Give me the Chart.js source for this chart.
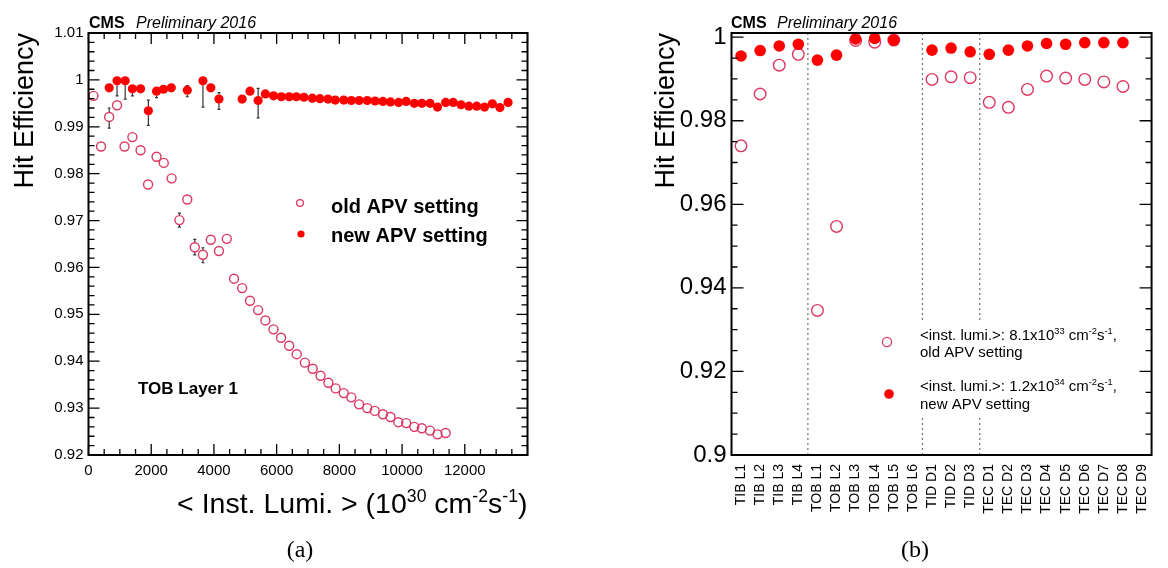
<!DOCTYPE html>
<html><head><meta charset="utf-8">
<script src="https://cdn.jsdelivr.net/npm/chart.js@4.4.0/dist/chart.umd.min.js"></script>
<style>
html,body{margin:0;padding:0;background:#fff;}
#wrap{position:relative;width:1168px;height:568px;overflow:hidden;background:#fff;}
#ca{position:absolute;left:0;top:0;width:580px;height:568px;}
#cb{position:absolute;left:600px;top:0;width:568px;height:568px;}
</style></head><body>
<div id="wrap"><canvas id="ca" width="580" height="568"></canvas><canvas id="cb" width="568" height="568"></canvas></div>
<script>
// ---------------- Panel (a) data ----------------
const oldLumi = [160,400,660,910,1150,1400,1660,1900,2170,2400,2650,2900,3150,3390,3650,3900,4160,4410,4640,4900,5150,5410,5640,5900,6140,6400,6640,6900,7150,7400,7650,7880,8140,8380,8630,8890,9130,9390,9630,9880,10130,10390,10630,10890,11130,11390];
const oldEff = [0.9966,0.9858,0.9921,0.9946,0.9858,0.9878,0.9850,0.9777,0.9836,0.9823,0.9790,0.9701,0.9745,0.9643,0.9627,0.9659,0.9635,0.9661,0.9576,0.9556,0.9529,0.9509,0.9487,0.9468,0.9450,0.9433,0.9415,0.9397,0.9384,0.9369,0.9354,0.9342,0.9332,0.9323,0.9308,0.9300,0.9294,0.9287,0.9281,0.9270,0.9268,0.9260,0.9257,0.9252,0.9244,0.9247];
const oldErrDown = [0,0,0.0024,0,0,0,0,0,0,0,0,0.0015,0,0.0016,0.0017,0,0,0,0,0,0,0,0,0,0,0,0,0,0,0,0,0,0,0,0,0,0,0,0,0,0,0,0,0,0,0];
const oldErrUp   = [0,0,0.0019,0,0,0,0,0,0,0,0,0.0015,0,0.0017,0.0015,0,0,0,0,0,0,0,0,0,0,0,0,0,0,0,0,0,0,0,0,0,0,0,0,0,0,0,0,0,0,0];

const newLumi = [660,910,1170,1400,1660,1910,2170,2390,2640,3150,3650,3900,4160,4900,5150,5410,5640,5900,6150,6400,6630,6870,7140,7380,7640,7870,8140,8380,8630,8890,9140,9390,9630,9890,10130,10390,10630,10890,11130,11390,11630,11880,12130,12380,12630,12880,13120,13380];
const newEff = [0.9983,0.9998,0.9998,0.9981,0.9981,0.9934,0.9976,0.9980,0.9983,0.9978,0.9998,0.9983,0.9959,0.9959,0.9976,0.9956,0.9970,0.9966,0.9964,0.9964,0.9964,0.9963,0.9961,0.9960,0.9959,0.9957,0.9957,0.9956,0.9956,0.9956,0.9955,0.9954,0.9953,0.9952,0.9954,0.9950,0.9950,0.9950,0.9942,0.9952,0.9952,0.9947,0.9944,0.9944,0.9942,0.9949,0.9941,0.9952];
const newErrDown = [0,0.0032,0.0039,0.0015,0,0.0031,0.0014,0,0,0.0014,0.0056,0,0.0022,0,0,0.0037,0,0,0,0,0,0,0,0,0,0,0,0,0,0,0,0,0,0,0,0,0,0,0,0,0,0,0,0,0,0,0,0];
const newErrUp   = [0,0,0,0,0,0.0023,0,0,0,0.0010,0,0,0.0014,0,0,0.0026,0,0,0,0,0,0,0,0,0,0,0,0,0,0,0,0,0,0,0,0,0,0,0,0,0,0,0,0,0,0,0,0];

const xTickLabelsA = ['0','2000','4000','6000','8000','10000','12000'];
const yTickLabelsA = ['0.92','0.93','0.94','0.95','0.96','0.97','0.98','0.99','1','1.01'];

// ---------------- Panel (b) data ----------------
const layers = ['TIB L1','TIB L2','TIB L3','TIB L4','TOB L1','TOB L2','TOB L3','TOB L4','TOB L5','TOB L6','TID D1','TID D2','TID D3','TEC D1','TEC D2','TEC D3','TEC D4','TEC D5','TEC D6','TEC D7','TEC D8','TEC D9'];
const oldEffB = [0.9740,0.9864,0.9933,0.9959,0.9346,0.9547,0.9992,0.9988,0.9993,null,0.9899,0.9905,0.9903,0.9844,0.9832,0.9875,0.9907,0.9902,0.9899,0.9893,0.9882,null];
const newEffB = [0.9955,0.9968,0.9979,0.9983,0.9945,0.9957,0.9996,0.9997,0.9993,null,0.9969,0.9974,0.9965,0.9959,0.9969,0.9979,0.9985,0.9983,0.9987,0.9987,0.9987,null];
const yTickLabelsB = ['0.9','0.92','0.94','0.96','0.98','1'];
const separatorsB = [3.5, 9.5, 12.5];

// ---------------- styling ----------------
const FONT = "'Liberation Sans', Arial, Helvetica, sans-serif";
const SERIF = "'Liberation Serif', 'DejaVu Serif', serif";
const OLD_COLOR = '#dd3862';
const NEW_COLOR = '#ff0000';
Chart.defaults.font.family = FONT;
Chart.defaults.color = '#000';

function drawRich(ctx, x, y, parts, size, align, weight) {
  const sup = size * 0.62;
  const fontFor = s => `${weight || 'normal'} ${s ? sup : size}px ${FONT}`;
  let total = 0;
  const widths = parts.map(([t, s]) => { ctx.font = fontFor(s); const w = ctx.measureText(t).width; total += w; return w; });
  let cx = align === 'right' ? x - total : align === 'center' ? x - total / 2 : x;
  ctx.textAlign = 'left'; ctx.textBaseline = 'alphabetic';
  parts.forEach(([t, s], i) => { ctx.font = fontFor(s); ctx.fillText(t, cx, s ? y - size * 0.4 : y); cx += widths[i]; });
}

function frameTicks(chart, o) {
  const {ctx, chartArea: a} = chart;
  const xs = chart.scales.x, ys = chart.scales.y;
  ctx.save();
  ctx.strokeStyle = '#000';
  ctx.lineWidth = 1.3;
  ctx.beginPath();
  if (o.yStep) {
    const n = Math.round((o.yEnd - o.yMin) / o.yStep);
    for (let i = 0; i <= n; i++) {
      const p = ys.getPixelForValue(o.yMin + i * o.yStep);
      const L = (i % o.yMajorEvery === 0) ? o.major : o.minor;
      ctx.moveTo(a.left, p); ctx.lineTo(a.left + L, p);
      ctx.moveTo(a.right, p); ctx.lineTo(a.right - L, p);
    }
  }
  if (o.xStep) {
    const n = Math.round((o.xEnd - o.xMin) / o.xStep);
    for (let i = 0; i <= n; i++) {
      const p = xs.getPixelForValue(o.xMin + i * o.xStep);
      const L = (i % o.xMajorEvery === 0) ? o.major : o.minor;
      ctx.moveTo(p, a.bottom); ctx.lineTo(p, a.bottom - L);
      ctx.moveTo(p, a.top); ctx.lineTo(p, a.top + L);
    }
  }
  ctx.stroke();
  ctx.lineWidth = 2;
  ctx.strokeRect(a.left, a.top, a.right - a.left, a.bottom - a.top);
  ctx.restore();
}

function drawErrBars(chart, X, Y, D, U, r) {
  const {ctx} = chart; const xs = chart.scales.x, ys = chart.scales.y;
  X.forEach((x, i) => {
    const px = xs.getPixelForValue(x), py = ys.getPixelForValue(Y[i]);
    if (D[i] > 0) {
      const pl = ys.getPixelForValue(Y[i] - D[i]);
      if (pl > py + r) { ctx.moveTo(px, py + r); ctx.lineTo(px, pl); ctx.moveTo(px - 1.5, pl); ctx.lineTo(px + 1.5, pl); }
    }
    if (U[i] > 0) {
      const ph = ys.getPixelForValue(Y[i] + U[i]);
      if (ph < py - r) { ctx.moveTo(px, py - r); ctx.lineTo(px, ph); ctx.moveTo(px - 1.5, ph); ctx.lineTo(px + 1.5, ph); }
    }
  });
}

function fmt(v) { return String(+(+v).toFixed(4)); }

// ---------------- Panel (a) ----------------
const decorA = {
  id: 'decorA',
  beforeDatasetsDraw(chart) {
    const ctx = chart.ctx;
    ctx.save(); ctx.strokeStyle = '#333'; ctx.lineWidth = 1.2; ctx.beginPath();
    drawErrBars(chart, oldLumi, oldEff, oldErrDown, oldErrUp, 4.5);
    drawErrBars(chart, newLumi, newEff, newErrDown, newErrUp, 4.5);
    ctx.stroke(); ctx.restore();
  },
  afterDatasetsDraw(chart) {
    frameTicks(chart, {yMin: 0.92, yEnd: 1.01, yStep: 0.002, yMajorEvery: 5, xMin: 0, xEnd: 14000, xStep: 500, xMajorEvery: 4, major: 11, minor: 6});
    const ctx = chart.ctx;
    ctx.save();
    ctx.fillStyle = '#000';
    ctx.textAlign = 'left'; ctx.textBaseline = 'alphabetic';
    ctx.font = `bold 16px ${FONT}`; ctx.fillText('CMS', 89, 28);
    ctx.font = `italic 16px ${FONT}`; ctx.fillText('Preliminary 2016', 136, 28);
    // legend
    ctx.beginPath(); ctx.arc(300, 203, 3.4, 0, Math.PI * 2); ctx.strokeStyle = OLD_COLOR; ctx.lineWidth = 1.3; ctx.stroke();
    ctx.beginPath(); ctx.arc(301, 234, 3.6, 0, Math.PI * 2); ctx.fillStyle = NEW_COLOR; ctx.fill();
    ctx.fillStyle = '#000';
    ctx.font = `bold 20px ${FONT}`;
    ctx.fillText('old APV setting', 331, 212.5);
    ctx.fillText('new APV setting', 331, 241.5);
    ctx.font = `bold 17px ${FONT}`;
    ctx.fillText('TOB Layer 1', 138, 394);
    // x title
    drawRich(ctx, chart.chartArea.right, 513, [['< Inst. Lumi. > (10', false], ['30', true], [' cm', false], ['-2', true], ['s', false], ['-1', true], [')', false]], 28.5, 'right');
    ctx.font = `24px ${SERIF}`; ctx.textAlign = 'center';
    ctx.fillText('(a)', 300, 557);
    ctx.restore();
  }
};

new Chart(document.getElementById('ca'), {
  type: 'scatter',
  data: { datasets: [
    { label: 'old APV setting', order: 2, data: oldLumi.map((x, i) => ({x, y: oldEff[i]})), pointStyle: 'circle', pointRadius: 4.5, pointHoverRadius: 4.5, pointBorderWidth: 1.4, borderColor: OLD_COLOR, backgroundColor: 'rgba(0,0,0,0)' },
    { label: 'new APV setting', order: 1, data: newLumi.map((x, i) => ({x, y: newEff[i]})), pointStyle: 'circle', pointRadius: 4.6, pointHoverRadius: 4.6, pointBorderWidth: 0, borderColor: NEW_COLOR, backgroundColor: NEW_COLOR }
  ]},
  options: {
    responsive: false, animation: false, events: [],
    layout: { padding: { left: 0, top: 33, right: 52.5, bottom: 0 } },
    plugins: { legend: { display: false }, tooltip: { enabled: false } },
    scales: {
      x: { type: 'linear', min: 0, max: 14000,
        grid: { display: false, drawTicks: false }, border: { display: false },
        ticks: { stepSize: 2000, padding: 7, autoSkip: false, maxRotation: 0, font: { size: 15 }, color: '#000',
          callback: v => xTickLabelsA.includes(fmt(v)) ? fmt(v) : '' },
        afterFit: s => { s.height = 113; } },
      y: { min: 0.92, max: 1.01,
        grid: { display: false, drawTicks: false }, border: { display: false },
        ticks: { stepSize: 0.01, padding: 5, includeBounds: false, autoSkip: false, font: { size: 15 }, color: '#000',
          callback: v => yTickLabelsA.includes(fmt(v)) ? fmt(v) : '' },
        title: { display: true, text: 'Hit Efficiency', align: 'end', color: '#000', font: { size: 27 }, padding: { top: 9, bottom: 0 } },
        afterFit: s => { s.width = 88.5; } }
    }
  },
  plugins: [decorA]
});

// ---------------- Panel (b) ----------------
const decorB = {
  id: 'decorB',
  beforeDatasetsDraw(chart) {
    const {ctx, chartArea: a} = chart; const xs = chart.scales.x;
    ctx.save(); ctx.strokeStyle = '#777'; ctx.lineWidth = 1.3; ctx.setLineDash([2, 3]);
    ctx.beginPath();
    separatorsB.forEach(v => { const p = xs.getPixelForValue(v); ctx.moveTo(p, a.top); ctx.lineTo(p, a.bottom); });
    ctx.stroke(); ctx.restore();
  },
  afterDatasetsDraw(chart) {
    const ctx = chart.ctx; const ox = 600;
    ctx.save();
    // legend box
    ctx.fillStyle = '#fff'; ctx.fillRect(860 - ox, 322, 295, 94);
    ctx.beginPath(); ctx.arc(887 - ox, 342, 4.6, 0, Math.PI * 2); ctx.strokeStyle = OLD_COLOR; ctx.lineWidth = 1.3; ctx.stroke();
    ctx.beginPath(); ctx.arc(889 - ox, 394, 4.8, 0, Math.PI * 2); ctx.fillStyle = NEW_COLOR; ctx.fill();
    ctx.fillStyle = '#000';
    drawRich(ctx, 920 - ox, 340, [['<inst. lumi.>: 8.1x10', false], ['33', true], [' cm', false], ['-2', true], ['s', false], ['-1', true], [',', false]], 15, 'left');
    drawRich(ctx, 920 - ox, 357, [['old APV setting', false]], 15, 'left');
    drawRich(ctx, 920 - ox, 391, [['<inst. lumi.>: 1.2x10', false], ['34', true], [' cm', false], ['-2', true], ['s', false], ['-1', true], [',', false]], 15, 'left');
    drawRich(ctx, 920 - ox, 409, [['new APV setting', false]], 15, 'left');
    ctx.restore();
    frameTicks(chart, {yMin: 0.9, yEnd: 1.0, yStep: 0.005, yMajorEvery: 4, major: 12, minor: 6});
    ctx.save();
    ctx.fillStyle = '#000'; ctx.textAlign = 'left'; ctx.textBaseline = 'alphabetic';
    ctx.font = `bold 16px ${FONT}`; ctx.fillText('CMS', 731 - ox, 28);
    ctx.font = `italic 16px ${FONT}`; ctx.fillText('Preliminary 2016', 777 - ox, 28);
    ctx.font = `24px ${SERIF}`; ctx.textAlign = 'center';
    ctx.fillText('(b)', 915 - ox, 557);
    ctx.restore();
  }
};

new Chart(document.getElementById('cb'), {
  type: 'line',
  data: { labels: layers, datasets: [
    { label: 'old APV setting', order: 2, data: oldEffB, showLine: false, pointStyle: 'circle', pointRadius: 5.8, pointHoverRadius: 5.8, pointBorderWidth: 1.4, pointBorderColor: OLD_COLOR, pointBackgroundColor: 'rgba(0,0,0,0)', borderColor: OLD_COLOR },
    { label: 'new APV setting', order: 1, data: newEffB, showLine: false, pointStyle: 'circle', pointRadius: 5.8, pointHoverRadius: 5.8, pointBorderWidth: 0, pointBorderColor: NEW_COLOR, pointBackgroundColor: NEW_COLOR, borderColor: NEW_COLOR }
  ]},
  options: {
    responsive: false, animation: false, events: [],
    layout: { padding: { left: 0, top: 33, right: 1, bottom: 0 } },
    plugins: { legend: { display: false }, tooltip: { enabled: false } },
    scales: {
      x: { type: 'category', offset: true,
        grid: { display: false, drawTicks: false }, border: { display: false },
        ticks: { autoSkip: false, minRotation: 90, maxRotation: 90, padding: 9, font: { size: 14 }, color: '#000' },
        afterFit: s => { s.height = 113; } },
      y: { min: 0.9, max: 1.001,
        grid: { display: false, drawTicks: false }, border: { display: false },
        ticks: { stepSize: 0.02, padding: 5, includeBounds: false, autoSkip: false, font: { size: 24 }, color: '#000',
          callback: v => yTickLabelsB.includes(fmt(v)) ? fmt(v) : '' },
        title: { display: true, text: 'Hit Efficiency', align: 'end', color: '#000', font: { size: 27 }, padding: { top: 50, bottom: 0 } },
        afterFit: s => { s.width = 131.5; } }
    }
  },
  plugins: [decorB]
});
</script>
</body></html>
